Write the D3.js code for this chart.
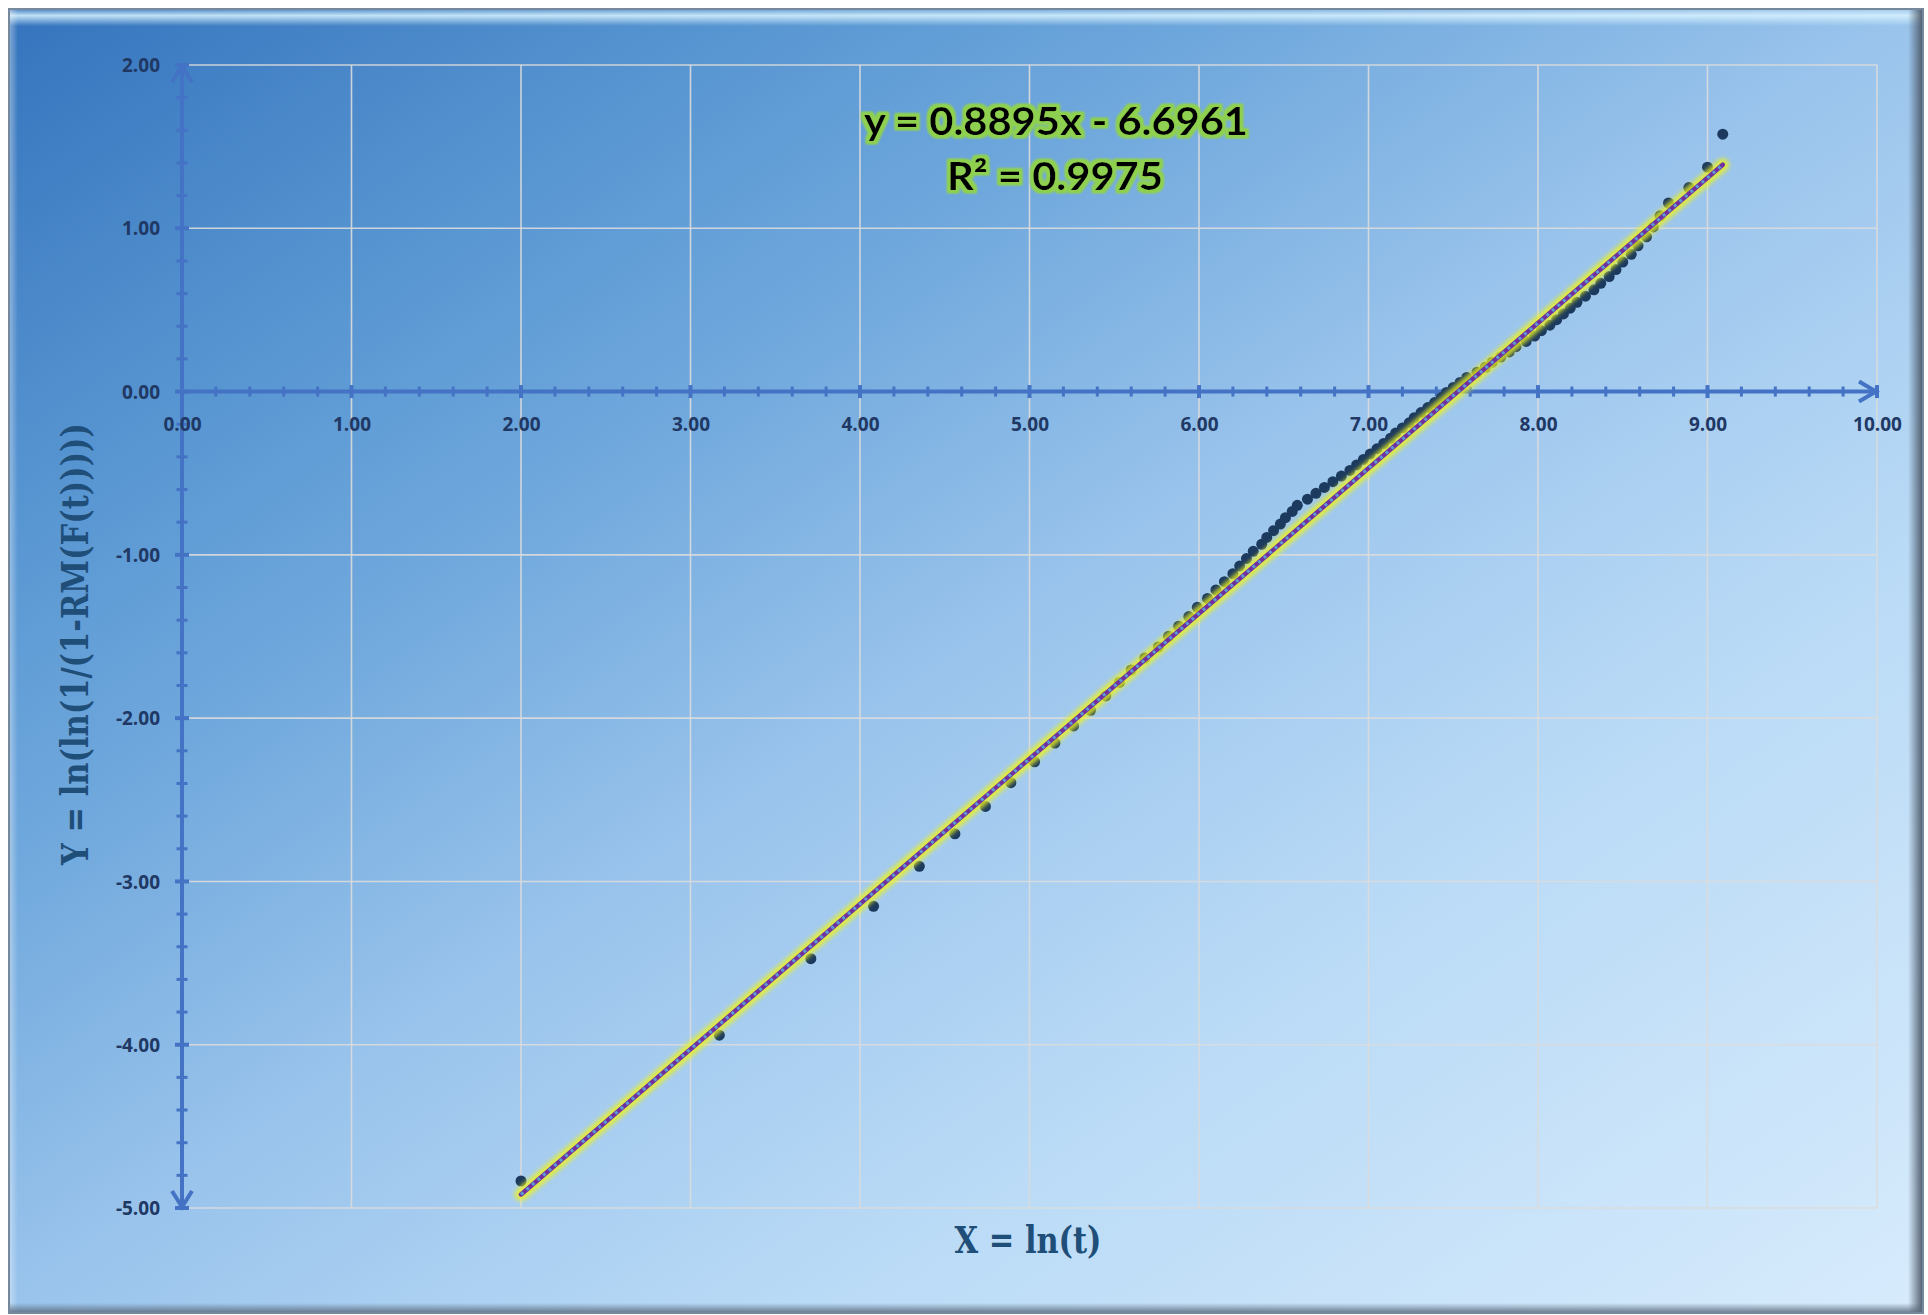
<!DOCTYPE html>
<html>
<head>
<meta charset="utf-8">
<script src="https://cdn.jsdelivr.net/npm/d3@7"></script>
<style>
  html, body { margin: 0; padding: 0; background: #ffffff; }
  svg { display: block; }
</style>
</head>
<body>
<svg id="chart" width="1928" height="1315"></svg>
<script>
// Weibull plot: X = ln(t), Y = ln(ln(1/(1-RM(F(t))))) for 88 ordered failures
const xValues = [
  2.00, 3.17, 3.71, 4.08, 4.35, 4.56, 4.74, 4.89, 5.03, 5.15,
  5.26, 5.36, 5.45, 5.53, 5.60, 5.68, 5.76, 5.82, 5.88, 5.94,
  5.99, 6.05, 6.10, 6.15, 6.20, 6.24, 6.28, 6.32, 6.37, 6.40,
  6.44, 6.48, 6.51, 6.55, 6.58, 6.64, 6.69, 6.74, 6.79, 6.84,
  6.89, 6.93, 6.97, 7.01, 7.05, 7.09, 7.13, 7.16, 7.20, 7.24,
  7.27, 7.31, 7.35, 7.39, 7.43, 7.46, 7.50, 7.54, 7.58, 7.64,
  7.69, 7.73, 7.78, 7.83, 7.87, 7.93, 7.98, 8.02, 8.07, 8.11,
  8.15, 8.19, 8.23, 8.28, 8.33, 8.37, 8.42, 8.46, 8.50, 8.55,
  8.59, 8.64, 8.68, 8.72, 8.77, 8.89, 9.00, 9.09
];
const yValues = [
  -4.8346, -3.9415, -3.4732, -3.1522, -2.9072, -2.7083, -2.5406, -2.3955, -2.2673, -2.1523,
  -2.0479, -1.9522, -1.8638, -1.7815, -1.7045, -1.6321, -1.5636, -1.4987, -1.4369, -1.3779,
  -1.3213, -1.2671, -1.2148, -1.1644, -1.1157, -1.0686, -1.0228, -0.9784, -0.9351, -0.8930,
  -0.8519, -0.8117, -0.7724, -0.7340, -0.6963, -0.6592, -0.6229, -0.5871, -0.5519, -0.5172,
  -0.4830, -0.4492, -0.4158, -0.3829, -0.3503, -0.3180, -0.2859, -0.2541, -0.2225, -0.1911,
  -0.1599, -0.1289, -0.0980, -0.0671, -0.0364, -0.0055, 0.0252, 0.0560, 0.0868, 0.1177,
  0.1488, 0.1800, 0.2113, 0.2430, 0.2749, 0.3071, 0.3397, 0.3728, 0.4063, 0.4404,
  0.4752, 0.5107, 0.5471, 0.5845, 0.6230, 0.6628, 0.7042, 0.7475, 0.7929, 0.8409,
  0.8923, 0.9477, 1.0085, 1.0764, 1.1548, 1.2495, 1.3740, 1.5766
];
const xTickValues = [0, 1, 2, 3, 4, 5, 6, 7, 8, 9, 10];
const yTickValues = [-5, -4, -3, -2, -1, 0, 1, 2];
const minorStep = 0.2;

// Linear trendline and its fit statistic
const trendSlope = 0.8895;
const trendIntercept = -6.6961;
const rSquared = 0.9975;

const xTitle = "X = ln(t)";
const yTitle = "Y = ln(ln(1/(1-RM(F(t)))))";

const points = xValues.map((v, i) => ({ x: v, y: yValues[i] }));

const svg = d3.select("#chart");
const defs = svg.append("defs");

// ---- gradients & filters ----
const bgGrad = defs.append("linearGradient").attr("id", "bgGrad")
  .attr("x1", 0).attr("y1", 0).attr("x2", 1).attr("y2", 1);
[[0, "#3574bd"], [0.2, "#5896d2"], [0.32, "#6ea7dc"], [0.5, "#9ac4ec"],
 [0.7, "#b9daf6"], [1, "#d7ebfc"]].forEach(([o, c]) =>
  bgGrad.append("stop").attr("offset", o).attr("stop-color", c));

const topHi = defs.append("linearGradient").attr("id", "topHi")
  .attr("x1", 0).attr("y1", 0).attr("x2", 0).attr("y2", 1);
topHi.append("stop").attr("offset", 0).attr("stop-color", "#e4f7ff").attr("stop-opacity", 0.2);
topHi.append("stop").attr("offset", 0.35).attr("stop-color", "#d8f3ff").attr("stop-opacity", 0.85);
topHi.append("stop").attr("offset", 1).attr("stop-color", "#d8f3ff").attr("stop-opacity", 0);

const leftHi = defs.append("linearGradient").attr("id", "leftHi")
  .attr("x1", 0).attr("y1", 0).attr("x2", 1).attr("y2", 0);
leftHi.append("stop").attr("offset", 0).attr("stop-color", "#ffffff").attr("stop-opacity", 0.35);
leftHi.append("stop").attr("offset", 1).attr("stop-color", "#ffffff").attr("stop-opacity", 0);

const rightSh = defs.append("linearGradient").attr("id", "rightSh")
  .attr("x1", 0).attr("y1", 0).attr("x2", 1).attr("y2", 0);
rightSh.append("stop").attr("offset", 0).attr("stop-color", "#4a5666").attr("stop-opacity", 0);
rightSh.append("stop").attr("offset", 1).attr("stop-color", "#4a5666").attr("stop-opacity", 0.9);

const bottomSh = defs.append("linearGradient").attr("id", "bottomSh")
  .attr("x1", 0).attr("y1", 0).attr("x2", 0).attr("y2", 1);
bottomSh.append("stop").attr("offset", 0).attr("stop-color", "#5a6a7c").attr("stop-opacity", 0);
bottomSh.append("stop").attr("offset", 1).attr("stop-color", "#5a6a7c").attr("stop-opacity", 0.8);

const lineGlow = defs.append("filter").attr("id", "lineGlow")
  .attr("x", "-10%").attr("y", "-10%").attr("width", "120%").attr("height", "120%");
lineGlow.append("feGaussianBlur").attr("stdDeviation", 2.2);

const textGlow = defs.append("filter").attr("id", "textGlow")
  .attr("x", "-10%").attr("y", "-40%").attr("width", "120%").attr("height", "180%");
textGlow.append("feMorphology").attr("in", "SourceAlpha").attr("operator", "dilate")
  .attr("radius", 2.6).attr("result", "fat");
textGlow.append("feGaussianBlur").attr("in", "fat").attr("stdDeviation", 1.3).attr("result", "soft");
textGlow.append("feFlood").attr("flood-color", "#8fd14f").attr("result", "green");
textGlow.append("feComposite").attr("in", "green").attr("in2", "soft").attr("operator", "in").attr("result", "halo");
const merge = textGlow.append("feMerge");
merge.append("feMergeNode").attr("in", "halo");
merge.append("feMergeNode").attr("in", "halo");
merge.append("feMergeNode").attr("in", "SourceGraphic");

// ---- chart frame ----
svg.append("rect").attr("x", 8).attr("y", 8).attr("width", 1916).attr("height", 1306)
  .attr("fill", "#76889c");
svg.append("rect").attr("x", 10).attr("y", 10).attr("width", 1912).attr("height", 1302)
  .attr("fill", "url(#bgGrad)");
svg.append("rect").attr("x", 10).attr("y", 10).attr("width", 1912).attr("height", 16)
  .attr("fill", "url(#topHi)");
svg.append("rect").attr("x", 10).attr("y", 10).attr("width", 8).attr("height", 1302)
  .attr("fill", "url(#leftHi)");
svg.append("rect").attr("x", 1908).attr("y", 10).attr("width", 14).attr("height", 1302)
  .attr("fill", "url(#rightSh)");
svg.append("rect").attr("x", 10).attr("y", 1303).attr("width", 1912).attr("height", 9)
  .attr("fill", "url(#bottomSh)");

// ---- scales ----
const x = d3.scaleLinear().domain([0, 10]).range([182, 1877]);
const y = d3.scaleLinear().domain([-5, 2]).range([1208, 65]);

// ---- gridlines ----
const grid = svg.append("g").attr("stroke", "#dcdcdc").attr("stroke-opacity", 0.9).attr("stroke-width", 1.6);
grid.selectAll("line.v").data(xTickValues.filter(d => d > 0)).join("line").attr("class", "v")
  .attr("x1", d => x(d)).attr("x2", d => x(d)).attr("y1", y(2)).attr("y2", y(-5));
grid.selectAll("line.h").data(yTickValues).join("line").attr("class", "h")
  .attr("x1", x(0)).attr("x2", x(10)).attr("y1", d => y(d)).attr("y2", d => y(d));

// ---- axes ----
const axisColor = "#4472c4";
const labelColor = "#1f3864";
const fmt = d3.formatLocale({ decimal: ".", thousands: ",", grouping: [3], currency: ["", ""], minus: "-" })
  .format(".2f");

const minorX = d3.range(0, 10 + 1e-9, minorStep).map(v => +v.toFixed(1));
const minorY = d3.range(-5, 2 + 1e-9, minorStep).map(v => +v.toFixed(1));
const isMajor = v => Math.abs(v - Math.round(v)) < 1e-6;

const axesG = svg.append("g").attr("stroke", axisColor).attr("fill", "none").attr("stroke-linecap", "butt");
// y axis line
axesG.append("line").attr("x1", x(0)).attr("x2", x(0)).attr("y1", y(2)).attr("y2", y(-5)).attr("stroke-width", 4);
// x axis line
axesG.append("line").attr("x1", x(0)).attr("x2", x(10)).attr("y1", y(0)).attr("y2", y(0)).attr("stroke-width", 4);
// cross ticks on y axis
axesG.selectAll("line.yt").data(minorY).join("line").attr("class", "yt")
  .attr("x1", d => x(0) - (isMajor(d) ? 7 : 5.5)).attr("x2", d => x(0) + (isMajor(d) ? 7 : 5.5))
  .attr("y1", d => y(d)).attr("y2", d => y(d))
  .attr("stroke-width", d => isMajor(d) ? 4 : 3);
// cross ticks on x axis
axesG.selectAll("line.xt").data(minorX).join("line").attr("class", "xt")
  .attr("y1", d => y(0) - (isMajor(d) ? 6.5 : 5)).attr("y2", d => y(0) + (isMajor(d) ? 6.5 : 5))
  .attr("x1", d => x(d)).attr("x2", d => x(d))
  .attr("stroke-width", d => isMajor(d) ? 4 : 3);
// open arrowheads
const arrow = d3.line();
axesG.append("path").attr("stroke-width", 4).attr("stroke-linejoin", "miter")
  .attr("d", arrow([[x(0) - 10, y(2) + 17], [x(0), y(2) + 1], [x(0) + 10, y(2) + 17]]));
axesG.append("path").attr("stroke-width", 4).attr("stroke-linejoin", "miter")
  .attr("d", arrow([[x(0) - 10, y(-5) - 17], [x(0), y(-5) - 1], [x(0) + 10, y(-5) - 17]]));
axesG.append("path").attr("stroke-width", 4).attr("stroke-linejoin", "miter")
  .attr("d", arrow([[x(10) - 18, y(0) - 10], [x(10) - 1, y(0)], [x(10) - 18, y(0) + 10]]));

// tick labels through d3 axes
const xAxis = d3.axisBottom(x).tickValues(xTickValues).tickFormat(fmt).tickSize(0);
const xAxisG = svg.append("g").attr("transform", `translate(0,${y(0)})`).call(xAxis);
xAxisG.select(".domain").remove();
xAxisG.selectAll("text").attr("y", 39).attr("dy", null);

const yAxis = d3.axisLeft(y).tickValues(yTickValues).tickFormat(fmt).tickSize(0);
const yAxisG = svg.append("g").attr("transform", `translate(${x(0)},0)`).call(yAxis);
yAxisG.select(".domain").remove();
yAxisG.selectAll("text").attr("x", -22).attr("dy", "0.35em");

[xAxisG, yAxisG].forEach(g => g.selectAll("text")
  .attr("fill", labelColor)
  .style("font-family", "'Open Sans', Lato, sans-serif")
  .style("font-weight", 700)
  .style("font-size", "19px"));

// ---- data points ----
svg.append("g").selectAll("circle").data(points).join("circle")
  .attr("cx", d => x(d.x)).attr("cy", d => y(d.y)).attr("r", 5.5)
  .attr("fill", "#1c3a5e");

// ---- trendline ----
const [xMin, xMax] = d3.extent(xValues);
const trendPts = [xMin, xMax].map(v => [x(v), y(trendSlope * v + trendIntercept)]);
const trendPath = d3.line()(trendPts);
svg.append("path").attr("d", trendPath).attr("stroke", "#eef21c").attr("stroke-width", 13)
  .attr("stroke-linecap", "round").attr("stroke-opacity", 0.8).attr("fill", "none")
  .attr("filter", "url(#lineGlow)");
svg.append("path").attr("d", trendPath).attr("stroke", "#7030a0").attr("stroke-width", 4.5)
  .attr("stroke-linecap", "round").attr("fill", "none");
svg.append("path").attr("d", trendPath).attr("stroke", "#5b9bd5").attr("stroke-width", 3)
  .attr("stroke-dasharray", "3 4.3").attr("fill", "none");

// ---- trendline equation ----
const eqG = svg.append("g").attr("filter", "url(#textGlow)")
  .style("font-family", "Lato, 'Open Sans', sans-serif").style("font-weight", 700)
  .style("font-size", "38px").attr("fill", "#000000").attr("text-anchor", "middle");
eqG.append("text").attr("x", 1056).attr("y", 135)
  .attr("textLength", 384).attr("lengthAdjust", "spacingAndGlyphs")
  .text(`y = ${trendSlope.toFixed(4)}x - ${Math.abs(trendIntercept).toFixed(4)}`);
eqG.append("text").attr("x", 1055).attr("y", 190)
  .attr("textLength", 216).attr("lengthAdjust", "spacingAndGlyphs")
  .text(`R² = ${rSquared.toFixed(4)}`);

// ---- axis titles ----
const titleStyle = sel => sel
  .style("font-family", "'DejaVu Serif', serif").style("font-weight", 700)
  .style("font-size", "38px").attr("fill", "#1f4e79").attr("text-anchor", "middle")
  .attr("lengthAdjust", "spacingAndGlyphs");

svg.append("text").attr("x", 1028).attr("y", 1253).attr("textLength", 147)
  .call(titleStyle).text(xTitle);
svg.append("text").attr("transform", "translate(88,644) rotate(-90)")
  .attr("textLength", 442).call(titleStyle).text(yTitle);
</script>
</body>
</html>
